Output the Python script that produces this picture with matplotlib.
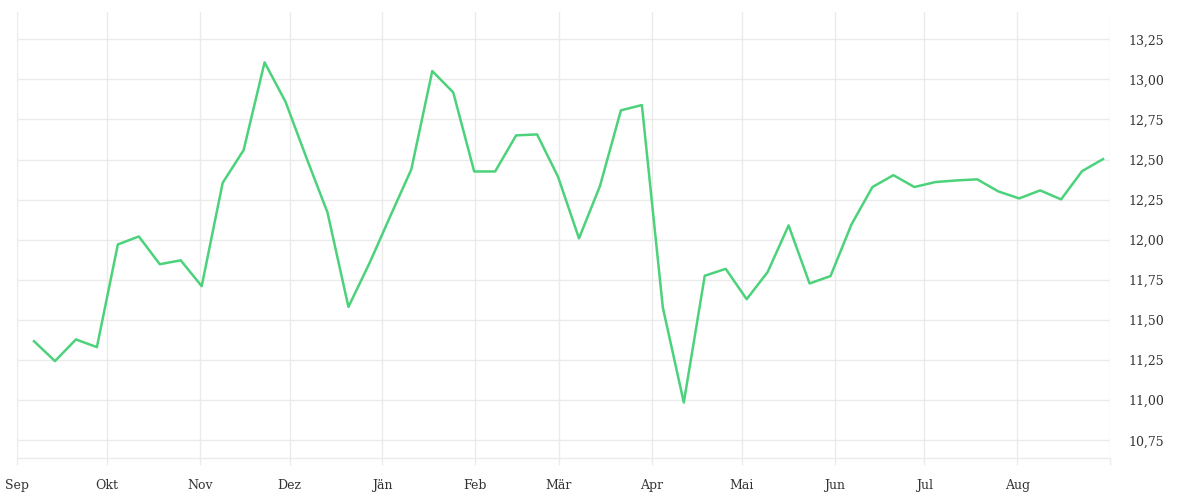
import matplotlib
matplotlib.use("Agg")
import matplotlib.pyplot as plt
from matplotlib.ticker import FuncFormatter
import pandas as pd

start_date = "2022-09-06 16:00"
values = [11.368, 11.244, 11.379, 11.331, 11.971, 12.021, 11.848, 11.872, 11.711, 12.355,
          12.559, 13.106, 12.860, 12.510, 12.171, 11.582, 11.853, 12.148, 12.439, 13.052,
          12.919, 12.426, 12.426, 12.651, 12.657, 12.393, 12.009, 12.335, 12.807, 12.840,
          11.578, 10.986, 11.776, 11.819, 11.630, 11.799, 12.090, 11.728, 11.774, 12.096,
          12.329, 12.403, 12.329, 12.360, 12.370, 12.377, 12.302, 12.258, 12.308, 12.252,
          12.428, 12.503]
month_labels = ["Sep", "Okt", "Nov", "Dez", "Jän", "Feb", "Mär", "Apr", "Mai", "Jun", "Jul", "Aug"]
y_ticks = [10.75, 11.00, 11.25, 11.50, 11.75, 12.00, 12.25, 12.50, 12.75, 13.00, 13.25]

plt.rcParams["font.family"] = ["DejaVu Serif"]

dates = pd.date_range(start_date, periods=len(values), freq="7D")
month_starts = pd.date_range("2022-09-01", "2023-09-01", freq="MS")

fig = plt.figure(figsize=(12, 5), dpi=100)
ax = fig.add_axes([0.0142, 0.084, 0.9108, 0.892])

grid_c = "#ebebeb"
text_c = "#333333"

ax.plot(dates, values, color="#4cd27a", linewidth=1.8, zorder=3)

ax.set_xlim(month_starts[0], month_starts[-1])
ax.set_ylim(10.64, 13.42)

ax.set_xticks(month_starts)
ax.set_xticklabels(month_labels + [""])
ax.set_yticks(y_ticks)
ax.yaxis.set_major_formatter(FuncFormatter(lambda v, p: f"{v:.2f}".replace(".", ",")))

ax.yaxis.tick_right()
ax.tick_params(axis="y", length=0, pad=13, labelsize=9, labelcolor=text_c)
ax.tick_params(axis="x", length=5, width=1, color=grid_c, pad=10, labelsize=9, labelcolor=text_c)

ax.grid(True, color=grid_c, linewidth=1)
ax.set_axisbelow(True)
for s in ["top", "left", "right"]:
    ax.spines[s].set_visible(False)
ax.spines["bottom"].set_color(grid_c)
ax.spines["bottom"].set_linewidth(1)

fig.savefig("out.png", dpi=100, facecolor="white")
